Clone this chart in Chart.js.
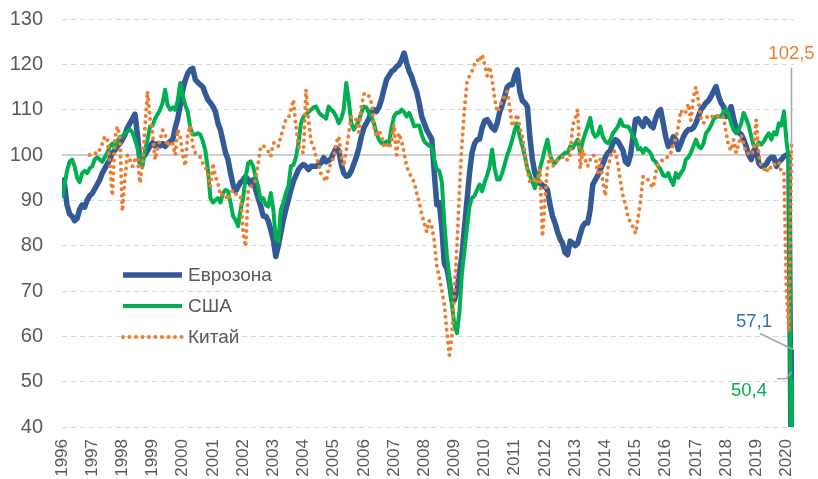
<!DOCTYPE html>
<html>
<head>
<meta charset="utf-8">
<script src="https://cdn.jsdelivr.net/npm/chart.js@4.4.1/dist/chart.umd.min.js"></script>
<style>
  html, body { margin: 0; padding: 0; background: #fff; }
  #wrap { width: 818px; height: 479px; }
</style>
</head>
<body>
<div id="wrap"><canvas id="chart" width="818" height="479"></canvas></div>
<script>
// monthly, Jan 1996 .. Apr 2020
let yearLabels = [];
for (let y = 1996; y <= 2020; y++) yearLabels.push(String(y));

let seriesNames = ["Еврозона", "США", "Китай"];

let eurozone = [
  95, 93.5, 89, 87, 86.5, 85.5, 86, 88, 89, 88.5, 90, 91,
  91.5, 92.5, 93.5, 94.5, 96, 97, 98, 99, 100.5, 101, 102, 102.5,
  103.4, 104.5, 106, 107, 108, 109, 104.5, 98.5, 99.5, 100, 101, 102,
  102.7, 102, 102.5, 102, 102.5, 101.9, 102.5, 103, 103.4, 106, 108, 111,
  114.4, 116.5, 118, 118.8, 119.1, 116.6, 116, 115.5, 115, 113.5, 112.2, 111.5,
  110.7, 109.5, 107, 105.5, 103, 100.5, 99, 96, 93.5, 92, 93, 94,
  94.5, 95.3, 94.5, 93.5, 94.5, 92.3, 90.5, 88.7, 86.5, 86.5, 85.5, 83.5,
  81.3, 77.6, 80, 82.8, 85.7, 88, 90.1, 92.3, 94.2, 95.5, 96.8, 97.5,
  97.9, 97.5, 96.8, 97.5, 97.5, 97.5, 97.8, 98.3, 99.4, 98.5, 98.8, 99.2,
  100.5, 101.5, 101, 98, 96, 95.3, 95.5, 96.5, 98, 99.5, 101.5, 104,
  106, 107, 108, 109.6, 110, 109.6, 110.5, 112.2, 114.5, 116.6, 117.5, 118.4,
  118.8, 119.5, 119.9, 121, 122.5, 120.3, 118.5, 117.3, 115.5, 114, 111.5, 108.5,
  107, 105.5, 104.5, 103.5, 96, 89, 89.5, 84, 76, 75, 72, 68,
  68, 70, 74, 78, 84, 90, 96, 100.5, 102.5, 103.4, 103.5, 106,
  107.5, 107.8, 107, 106, 105.5, 107, 109.5, 111, 113, 115, 115.5, 115.5,
  117.5, 118.8, 114, 112, 111.5, 110.7, 104, 99, 96, 94.5, 93.8, 93.3,
  93, 92.3, 89, 86.5, 85, 83, 81.5, 80.5, 78.5, 78, 81, 80.6,
  80, 80.5, 82.5, 84.3, 85, 85, 88, 93.5, 94.5, 95.5, 96.8, 98,
  99.5, 100.5, 101, 102.6, 103.4, 103, 102, 101, 98.5, 98, 100, 104,
  107.8, 108, 107, 106.3, 108, 107.5, 106.5, 106, 108, 109.5, 110, 107,
  104, 101.9, 102.5, 104, 103.4, 101.2, 102.5, 104, 105, 105.6, 105.6, 106,
  107, 108.5, 110, 110.7, 111.5, 112, 112.9, 114, 115.1, 113, 111.5, 110.7,
  108.5, 109.5, 110.7, 108, 106, 105, 104.5, 103.4, 101.9, 100, 99, 101,
  101, 98.2, 97.5, 97.5, 98, 99, 99.5, 99.5, 97.5, 98.5, 99, 99.7,
  100, 99.7, 20, 57.1
];

let usa = [
  90.5, 93.5, 96.5, 98.5, 99, 97.5, 95, 94, 96, 96.5, 96, 97,
  97.5, 99, 99.5, 99, 98.5, 99.5, 100.5, 101.9, 102.5, 101.5, 103, 104,
  104, 104.8, 105.2, 105.6, 105, 103.4, 101.5, 99, 97.5, 101, 103.4, 106.3,
  106.5, 108, 109, 110, 111.5, 114.4, 111, 110, 110.5, 110, 112, 115.9,
  113, 111, 109.5, 106, 104.5, 104.5, 104.8, 104.5, 103, 101, 96.8, 90.5,
  89.5, 90, 90.5, 89.5, 91.6, 92.3, 92, 89.5, 86.5, 85.7, 84.3, 88,
  90.5, 95, 98.2, 98.6, 97.5, 95, 93, 90.1, 90.5, 89, 88.6, 91.6,
  88, 81.5, 81, 87.9, 89.5, 91.6, 93.1, 97.5, 97.8, 99.5, 102.6, 107,
  108.5, 109, 109.5, 110, 110.5, 110.7, 109.5, 108.8, 108.5, 108, 110.7, 110,
  109.5, 108.5, 107, 108, 110, 115.9, 112, 107, 105.6, 106.5, 107.5, 109.3,
  110.7, 110.5, 109.3, 108.5, 107, 104.8, 103.4, 102.6, 102.6, 103, 102.5, 106,
  108.5, 109.3, 109.3, 110, 109.5, 108.5, 109.3, 108, 106.3, 106.5, 106.5, 104.5,
  103, 102.5, 102, 101.9, 99, 96.8, 96.5, 94, 85, 78, 73, 67,
  62.5, 60.7, 65.5, 74, 79, 84, 88.7, 90.5, 91, 92.3, 93.5, 92,
  94, 95.5, 97.5, 101.2, 97, 94.6, 94.6, 96, 98, 100, 101.5, 103.4,
  105.5, 107, 104, 102, 99.7, 97, 95.5, 94, 92.7, 94.6, 97, 99,
  101.5, 103.4, 100, 98.5, 98.2, 99, 99.5, 100, 100.5, 100.5, 101.9, 101.5,
  102.5, 103.4, 100.5, 103, 104.8, 106.3, 108.2, 105, 104, 104.5, 106.3, 104,
  103, 102.6, 103.4, 104.8, 105.5, 106.3, 107.8, 106.5, 106.3, 106.3, 105.5, 104,
  103.4, 101.2, 101.5, 100.5, 101.5, 101, 100.4, 99, 98.5, 97.5, 96.8, 95.5,
  95.3, 96, 94.5, 93.4, 96, 95, 96, 96.8, 99, 99.5, 100.5, 101.9,
  103.4, 102, 101.5, 102.5, 104.8, 105.5, 106.5, 107.8, 108.5, 108.5, 108.5, 109.5,
  110, 109, 107, 105.5, 104.8, 105.5, 107, 109.3, 108, 106.5, 104.1, 102,
  101.9, 102.8, 102.3, 103, 104, 104.8, 103.4, 105, 104.5, 107, 106.5, 109.6,
  103, 99, 20, 50.4
];

let china = [
  null, null, null, null, null, null, null, null, null, null, null, 100,
  100.3, 100.5, 100.2, 101.2, 102.5, 104.1, 103.5, 98.2, 91, 103.4, 106.3, 104,
  87.6, 94.6, 100, 99, 97.5, 99, 99.5, 93.8, 98, 106.3, 114, 108,
  104.8, 99, 101.5, 103.4, 105.5, 104.5, 101.9, 103, 102.5, 100, 105.6, 104,
  100, 97.6, 104.8, 106.5, 102, 100.4, 100, 99.5, 98.2, 97.5, 95.5, 93,
  98.2, 95.3, 93.8, 91, 91.5, 91, 90.1, 91.5, 92.3, 91.5, 91, 90.9,
  82.8, 79.8, 92, 93, 93.5, 94.5, 98.2, 101.9, 102, 101.5, 100.8, 99.7,
  102.6, 102.8, 102, 104.1, 106, 107.8, 108, 110, 112.2, 106.3, 102, 101,
  100.5, 114.4, 107.8, 103, 101.9, 99.5, 98.2, 95.7, 95, 94.2, 97, 98.2,
  99.5, 102.6, 104.1, 99.7, 97.5, 101, 104.8, 108.5, 108, 107.8, 105, 110.7,
  113.4, 113.7, 113, 111.5, 106.3, 104, 105.5, 104.1, 102, 102.6, 101.5, 103,
  106.7, 100, 104.8, 103, 100.5, 97.5, 96.1, 95, 94, 91.6, 89.5, 87,
  85, 83, 85.5, 84.3, 81, 75.5, 73, 70, 67, 61, 55.8, 60,
  70, 80, 92, 102.6, 110, 116, 117.5, 118.5, 120, 121, 120.5, 122.2,
  120, 117.5, 119.5, 116.6, 112.5, 109.5, 110.7, 112, 113, 114, 110.5, 106.3,
  107.5, 109, 106, 104, 100.4, 96.5, 94, 94, 95, 94, 96.8, 82,
  90, 97.5, 100, 97.5, 98, 98.9, 99.2, 99.5, 99.7, 98.8, 100, 106.5,
  108, 110, 97, 101.2, 99, 97.5, 99, 100, 99.7, 96, 99, 94,
  91, 97, 99.7, 101, 100.7, 98, 94.2, 91, 89, 86.5, 85, 84.2,
  82.7, 86, 89.8, 95.3, 95, 94.5, 93.5, 92.8, 96.1, 98.2, 98.5, 99,
  99.5, 99.5, 100.4, 102.6, 103.5, 106.3, 109.9, 109, 109.5, 111.3, 107.6, 112.7,
  115, 112, 108, 107, 108, 108.8, 108.5, 108.5, 108.2, 108.8, 108.5, 108.3,
  105, 101.9, 101, 103.4, 100.5, 102.5, 104.3, 102.5, 100.4, 100.4, 100, 101,
  107.8, 100, 97.5, 97, 96.1, 97.5, 97, 97.8, 98.2, 98.5, 96.1, 96,
  70, 61, 102.5, null
];

let colors = {euro: "#335a96", usa: "#00b050", china: "#ed7d31", euroLabel: "#2e75b6", text: "#595959"};
let fontFamily = "'Liberation Sans', Arial, sans-serif";

function toPoints(values) {
    return values.map(function (v, i) { return {x: i, y: v}; });
}

function lastIndex(values) {
    for (let i = values.length - 1; i >= 0; i--) if (values[i] !== null) return i;
    return -1;
}

function fmt(v) {
    return v.toFixed(1).replace(".", ",");
}

// legend inside the plot + end-of-series labels with leader lines
let overlayPlugin = {
    id: "overlay",
    afterDatasetsDraw: function (chart) {
        let ctx = chart.ctx;
        let xs = chart.scales.x, ys = chart.scales.y;
        ctx.save();

        // legend
        let items = [
            {text: seriesNames[0], color: colors.euro, width: 5.5, dash: []},
            {text: seriesNames[1], color: colors.usa, width: 4, dash: []},
            {text: seriesNames[2], color: colors.china, width: 4, dash: [0, 6.5]}
        ];
        ctx.font = "19px " + fontFamily;
        ctx.textBaseline = "middle";
        items.forEach(function (it, k) {
            let ly = 275 + k * 31;
            ctx.beginPath();
            ctx.strokeStyle = it.color;
            ctx.lineWidth = it.width;
            ctx.lineCap = it.dash.length ? "round" : "butt";
            ctx.setLineDash(it.dash);
            ctx.moveTo(123, ly);
            ctx.lineTo(182, ly);
            ctx.stroke();
            ctx.setLineDash([]);
            ctx.fillStyle = colors.text;
            ctx.textAlign = "left";
            ctx.fillText(it.text, 188, ly + 1);
        });

        // end labels
        ctx.strokeStyle = "#a6a6a6";
        ctx.lineWidth = 1.5;
        ctx.lineCap = "butt";
        ctx.font = "18.5px " + fontFamily;
        ctx.textAlign = "center";

        let ci = lastIndex(china);
        let cx = xs.getPixelForValue(ci), cy = ys.getPixelForValue(china[ci]);
        ctx.beginPath();
        ctx.moveTo(cx, cy + 6);
        ctx.lineTo(cx, cy - 76);
        ctx.stroke();
        ctx.fillStyle = colors.china;
        ctx.fillText(fmt(china[ci]), cx, cy - 90);

        let ei = lastIndex(eurozone);
        let ex = xs.getPixelForValue(ei), ey = ys.getPixelForValue(eurozone[ei]);
        ctx.beginPath();
        ctx.moveTo(ex - 1, ey);
        ctx.lineTo(ex - 34, ey - 16);
        ctx.stroke();
        ctx.fillStyle = colors.euroLabel;
        ctx.fillText(fmt(eurozone[ei]), ex - 40, ey - 28);

        let ui = lastIndex(usa);
        let ux = xs.getPixelForValue(ui), uy = ys.getPixelForValue(usa[ui]);
        ctx.beginPath();
        ctx.moveTo(ux - 2, uy - 8);
        ctx.lineTo(ux - 8, uy - 1);
        ctx.lineTo(ux - 17, uy - 1);
        ctx.stroke();
        ctx.fillStyle = colors.usa;
        ctx.fillText(fmt(usa[ui]), ux - 45, uy + 11);

        ctx.restore();
    }
};

let chart = new Chart(document.getElementById("chart"), {
    type: "line",
    data: {
        datasets: [
            {label: seriesNames[0], data: toPoints(eurozone), borderColor: colors.euro, borderWidth: 5.5, order: 3},
            {label: seriesNames[1], data: toPoints(usa), borderColor: colors.usa, borderWidth: 4, order: 2},
            {label: seriesNames[2], data: toPoints(china), borderColor: colors.china, borderWidth: 4,
                borderDash: [0, 6.5], borderCapStyle: "round", order: 1}
        ]
    },
    options: {
        responsive: false,
        animation: false,
        devicePixelRatio: 1,
        layout: {padding: {top: 19, right: 24, left: 0, bottom: 0}},
        elements: {
            point: {radius: 0, hoverRadius: 0},
            line: {tension: 0, fill: false, borderJoinStyle: "round"}
        },
        plugins: {legend: {display: false}, tooltip: {enabled: false}},
        scales: {
            x: {
                type: "linear",
                min: 0,
                max: eurozone.length - 1,
                afterBuildTicks: function (scale) {
                    scale.ticks = yearLabels.map(function (y, k) { return {value: k * 12}; });
                },
                afterFit: function (scale) { scale.height = 52; },
                grid: {display: false},
                border: {display: false},
                ticks: {
                    autoSkip: false,
                    minRotation: 90,
                    maxRotation: 90,
                    padding: 4,
                    color: colors.text,
                    font: {family: fontFamily, size: 17},
                    callback: function (v) { return yearLabels[Math.round(v / 12)]; }
                }
            },
            y: {
                min: 40,
                max: 130,
                afterFit: function (scale) {
                    scale.width = 62;
                    scale.paddingTop = 0;
                    scale.paddingBottom = 0;
                },
                grid: {
                    drawTicks: false,
                    color: function (c) { return c.tick && c.tick.value === 100 ? "#d0d0d0" : "#d9d9d9"; },
                    lineWidth: function (c) { return c.tick && c.tick.value === 100 ? 2 : 1; }
                },
                border: {
                    display: false,
                    dash: function (c) { return c.tick && c.tick.value === 100 ? [] : [5, 4]; }
                },
                ticks: {
                    stepSize: 10,
                    padding: 19,
                    color: colors.text,
                    font: {family: fontFamily, size: 20}
                }
            }
        }
    },
    plugins: [overlayPlugin]
});
</script>
</body>
</html>
